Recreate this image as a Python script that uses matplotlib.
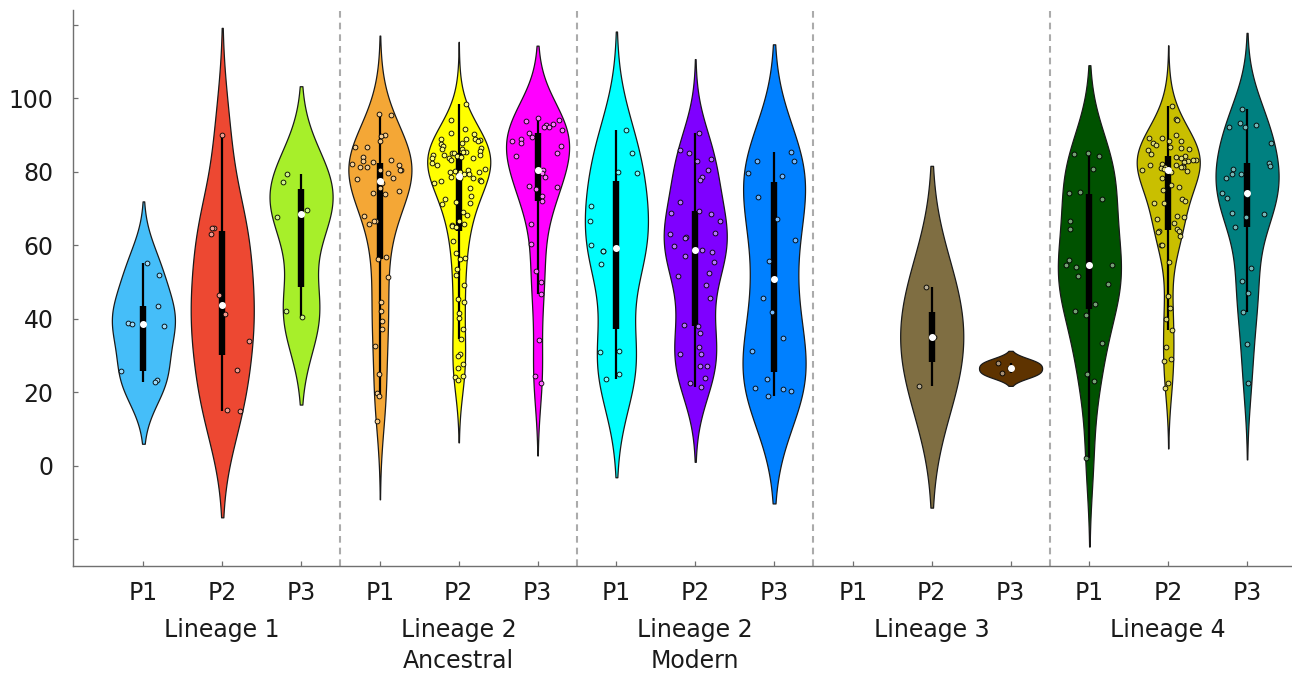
import numpy as np
import matplotlib
matplotlib.use("Agg")
import matplotlib.pyplot as plt
import matplotlib.transforms as mtransforms
from matplotlib.colors import to_rgb

plt.rcParams['font.family'] = ['DejaVu Sans']

# ---------------- data ----------------
GROUP_LABELS = ["Lineage 1", "Lineage 2\nAncestral", "Lineage 2\nModern", "Lineage 3", "Lineage 4"]
PHASE_LABELS = ["P1", "P2", "P3"]
Y_TICKS = [-20, 0, 20, 40, 60, 80, 100, 120]
Y_TICK_LABELS = ["", "0", "20", "40", "60", "80", "100", ""]

L1_P1 = [55.2, 51.8, 43.4, 38.9, 38.6, 38.1, 25.8, 23.2, 22.7]
L1_P2 = [90.1, 64.8, 64.6, 63.0, 46.4, 43.7, 41.2, 34.0, 26.0, 15.2, 15.0]
L1_P3 = [79.5, 77.1, 69.5, 67.6, 42.2, 40.4]

L2A_P1 = [95.7, 95.5, 89.9, 89.6, 88.4, 86.6, 86.6, 84.1, 83.2, 82.9, 82.6, 82.2, 81.7, 81.4,
          81.2, 80.5, 80.5, 80.4, 79.6, 78.4, 78.1, 77.0, 75.6, 74.7, 74.1, 73.9, 67.9, 66.6,
          66.5, 65.8, 56.8, 56.2, 51.3, 44.6, 42.2, 39.4, 37.1, 32.7, 25.0, 19.7, 18.9, 12.2]
L2A_P2 = [98.4, 94.0, 91.6, 90.6, 90.3, 88.8, 88.8, 88.8, 88.6, 88.4, 87.7, 87.5, 87.0, 86.5,
          86.3, 86.1, 85.6, 85.4, 85.3, 85.2, 85.1, 84.5, 84.5, 84.5, 84.2, 83.9, 83.7, 83.6,
          83.6, 83.2, 82.4, 81.7, 80.7, 80.6, 80.1, 79.9, 79.8, 79.8, 79.3, 79.3, 78.6, 78.4,
          78.2, 77.7, 77.6, 77.5, 76.8, 75.6, 73.5, 72.7, 71.8, 71.4, 71.2, 69.0, 68.2, 66.5,
          65.8, 65.5, 65.3, 64.9, 61.2, 57.8, 56.6, 56.2, 53.5, 51.8, 49.2, 45.3, 44.5, 41.5,
          40.2, 37.2, 34.4, 30.3, 29.8, 27.7, 26.5, 24.5, 24.1, 23.3]
L2A_P3 = [94.5, 94.1, 93.7, 92.9, 92.7, 92.2, 92.1, 91.4, 90.5, 89.5, 88.8, 88.4, 87.7, 86.9,
          85.2, 84.3, 80.5, 80.2, 79.7, 78.5, 76.2, 75.8, 75.2, 73.5, 72.1, 65.7, 60.3, 52.9,
          49.9, 46.6, 34.2, 24.5, 22.6]

L2M_P1 = [91.3, 85.2, 80.0, 79.6, 70.6, 66.7, 60.0, 58.4, 58.4, 54.8, 31.3, 31.0, 24.9, 23.7]
L2M_P2 = [90.4, 85.9, 85.1, 83.5, 82.9, 80.5, 78.6, 77.7, 71.8, 69.2, 68.7, 68.6, 66.7, 63.2,
          63.0, 62.1, 62.0, 59.7, 58.8, 58.2, 57.2, 55.5, 52.4, 51.5, 49.3, 45.7, 38.2, 38.0,
          36.0, 32.2, 30.5, 30.5, 27.2, 27.2, 23.9, 22.5, 21.3]
L2M_P3 = [85.4, 82.9, 82.9, 79.6, 78.7, 73.0, 67.0, 61.4, 55.8, 45.6, 41.7, 34.7, 31.1, 23.6,
          21.2, 20.8, 20.4, 19.0]

L3_P1 = []
L3_P2 = [48.6, 35.1, 21.6]
L3_P3 = [27.9, 25.1]

L4_P1 = [85.0, 84.7, 84.3, 80.7, 74.4, 74.3, 72.5, 66.7, 64.3, 56.0, 54.6, 54.6, 54.2, 51.5,
         49.5, 44.1, 42.0, 41.0, 33.5, 25.0, 23.0, 2.0]
L4_P2 = [97.9, 94.3, 94.1, 90.1, 89.3, 89.2, 88.4, 88.3, 87.9, 87.3, 86.8, 86.5, 86.3, 85.9,
         84.7, 84.2, 84.1, 83.7, 83.2, 83.1, 83.0, 82.6, 82.0, 81.9, 81.7, 81.6, 81.4, 81.3,
         81.3, 81.1, 80.8, 80.5, 80.2, 79.8, 78.2, 76.3, 75.8, 75.1, 72.5, 71.9, 71.5, 71.4,
         67.9, 67.7, 67.2, 66.0, 64.4, 63.8, 63.8, 63.7, 62.5, 60.1, 60.1, 55.5, 46.2, 42.9,
         39.8, 36.9, 32.4, 29.1, 28.6, 22.6, 21.2]
L4_P3 = [97.1, 93.3, 92.7, 92.2, 92.1, 87.8, 82.3, 81.5, 80.7, 79.4, 79.3, 78.4, 74.2, 73.6,
         72.9, 68.8, 68.6, 67.7, 65.0, 53.7, 50.3, 46.9, 41.7, 33.0, 22.4]

SERIES = [L1_P1, L1_P2, L1_P3, L2A_P1, L2A_P2, L2A_P3, L2M_P1, L2M_P2, L2M_P3,
          L3_P1, L3_P2, L3_P3, L4_P1, L4_P2, L4_P3]

# ---------------- style ----------------
COLORS = ["#45BEF9", "#ED4832", "#A7EF2A", "#F4A736", "#FFFF00", "#FF00FF",
          "#00FFFF", "#7F00FF", "#0080FF", "#808080", "#7F6E42", "#5E3300",
          "#005200", "#C9BF00", "#008080"]
BANDWIDTH = [7.6, 13.2, 10.8, 9.7, 7.7, 9.0, 12.2, 9.2, 13.3, 8.0, 15.0, 1.53, 10.9, 7.5, 9.4]
CUTOFF = 2.2

W, H = 1292, 673
fig = plt.figure(figsize=(W / 100, H / 100), dpi=100)
ax = fig.add_axes([73 / W, 1 - 565.7 / H, (W - 73) / W, (565.7 - 10) / H])

rng = np.random.default_rng(7)
positions = np.arange(1, len(SERIES) + 1)
half_width = 0.4

for pos, data, col, bw in zip(positions, SERIES, COLORS, BANDWIDTH):
    if len(data) == 0:
        continue
    d = np.asarray(data, dtype=float)
    grid = np.linspace(d.min() - CUTOFF * bw, d.max() + CUTOFF * bw, 200)
    dens = np.exp(-0.5 * ((grid[:, None] - d[None, :]) / bw) ** 2).sum(axis=1)
    stats = [dict(coords=grid, vals=dens, mean=d.mean(), median=np.median(d),
                  min=d.min(), max=d.max())]
    parts = ax.violin(stats, positions=[pos], widths=2 * half_width,
                      showmeans=False, showextrema=False, showmedians=False)
    for b in parts['bodies']:
        b.set_facecolor(col)
        b.set_edgecolor('#1a1a1a')
        b.set_linewidth(0.9)
        b.set_alpha(1)
        b.set_zorder(2)

    q1, med, q3 = np.percentile(d, [25, 50, 75])
    iqr = q3 - q1
    lo = d[d >= q1 - 1.5 * iqr].min()
    hi = d[d <= q3 + 1.5 * iqr].max()
    ax.plot([pos, pos], [lo, hi], color='black', lw=1.6, zorder=3, solid_capstyle='butt')
    ax.plot([pos, pos], [q1, q3], color='black', lw=4.6, zorder=3, solid_capstyle='butt')

    # jitter scaled by the density at each point
    dens_pts = np.exp(-0.5 * ((d[:, None] - d[None, :]) / bw) ** 2).sum(axis=1) / dens.max()
    jit = (rng.random(len(d)) * 2 - 1) * dens_pts * half_width * 0.9
    rgb = np.array(to_rgb(col))
    face = rgb + (1 - rgb) * 0.45
    ax.scatter(pos + jit, d, s=12, facecolor=face, edgecolor='black', linewidths=0.6, zorder=4)

    ax.plot([pos], [med], marker='o', ms=4.0, mfc='white', mec='white', zorder=5)

for xsep in [3.5, 6.5, 9.5, 12.5]:
    ax.axvline(xsep, color='#ababab', lw=1.5, ls=(0, (3.2, 2.4)), zorder=1)

ax.set_xlim(0.107, 15.57)
ax.set_ylim(-27.2, 124.0)
ax.set_yticks(Y_TICKS)
ax.set_yticklabels(Y_TICK_LABELS)
ax.set_xticks(positions)
ax.set_xticklabels(PHASE_LABELS * len(GROUP_LABELS))

for side in ['top', 'right']:
    ax.spines[side].set_visible(False)
for side in ['left', 'bottom']:
    ax.spines[side].set_color('#707070')
    ax.spines[side].set_linewidth(1.0)
ax.tick_params(axis='both', direction='in', length=3.5, width=0.9, color='#707070',
               labelsize=17, labelcolor='#1a1a1a')
ax.tick_params(axis='y', pad=14)
ax.tick_params(axis='x', pad=11)

trans = mtransforms.blended_transform_factory(ax.transData, fig.transFigure)
for gi, lab in enumerate(GROUP_LABELS):
    ax.text(gi * 3 + 2, 1 - 618 / H, lab, transform=trans, ha='center', va='top',
            fontsize=17, color='#1a1a1a', linespacing=1.35)

fig.savefig("out.png", dpi=100)
